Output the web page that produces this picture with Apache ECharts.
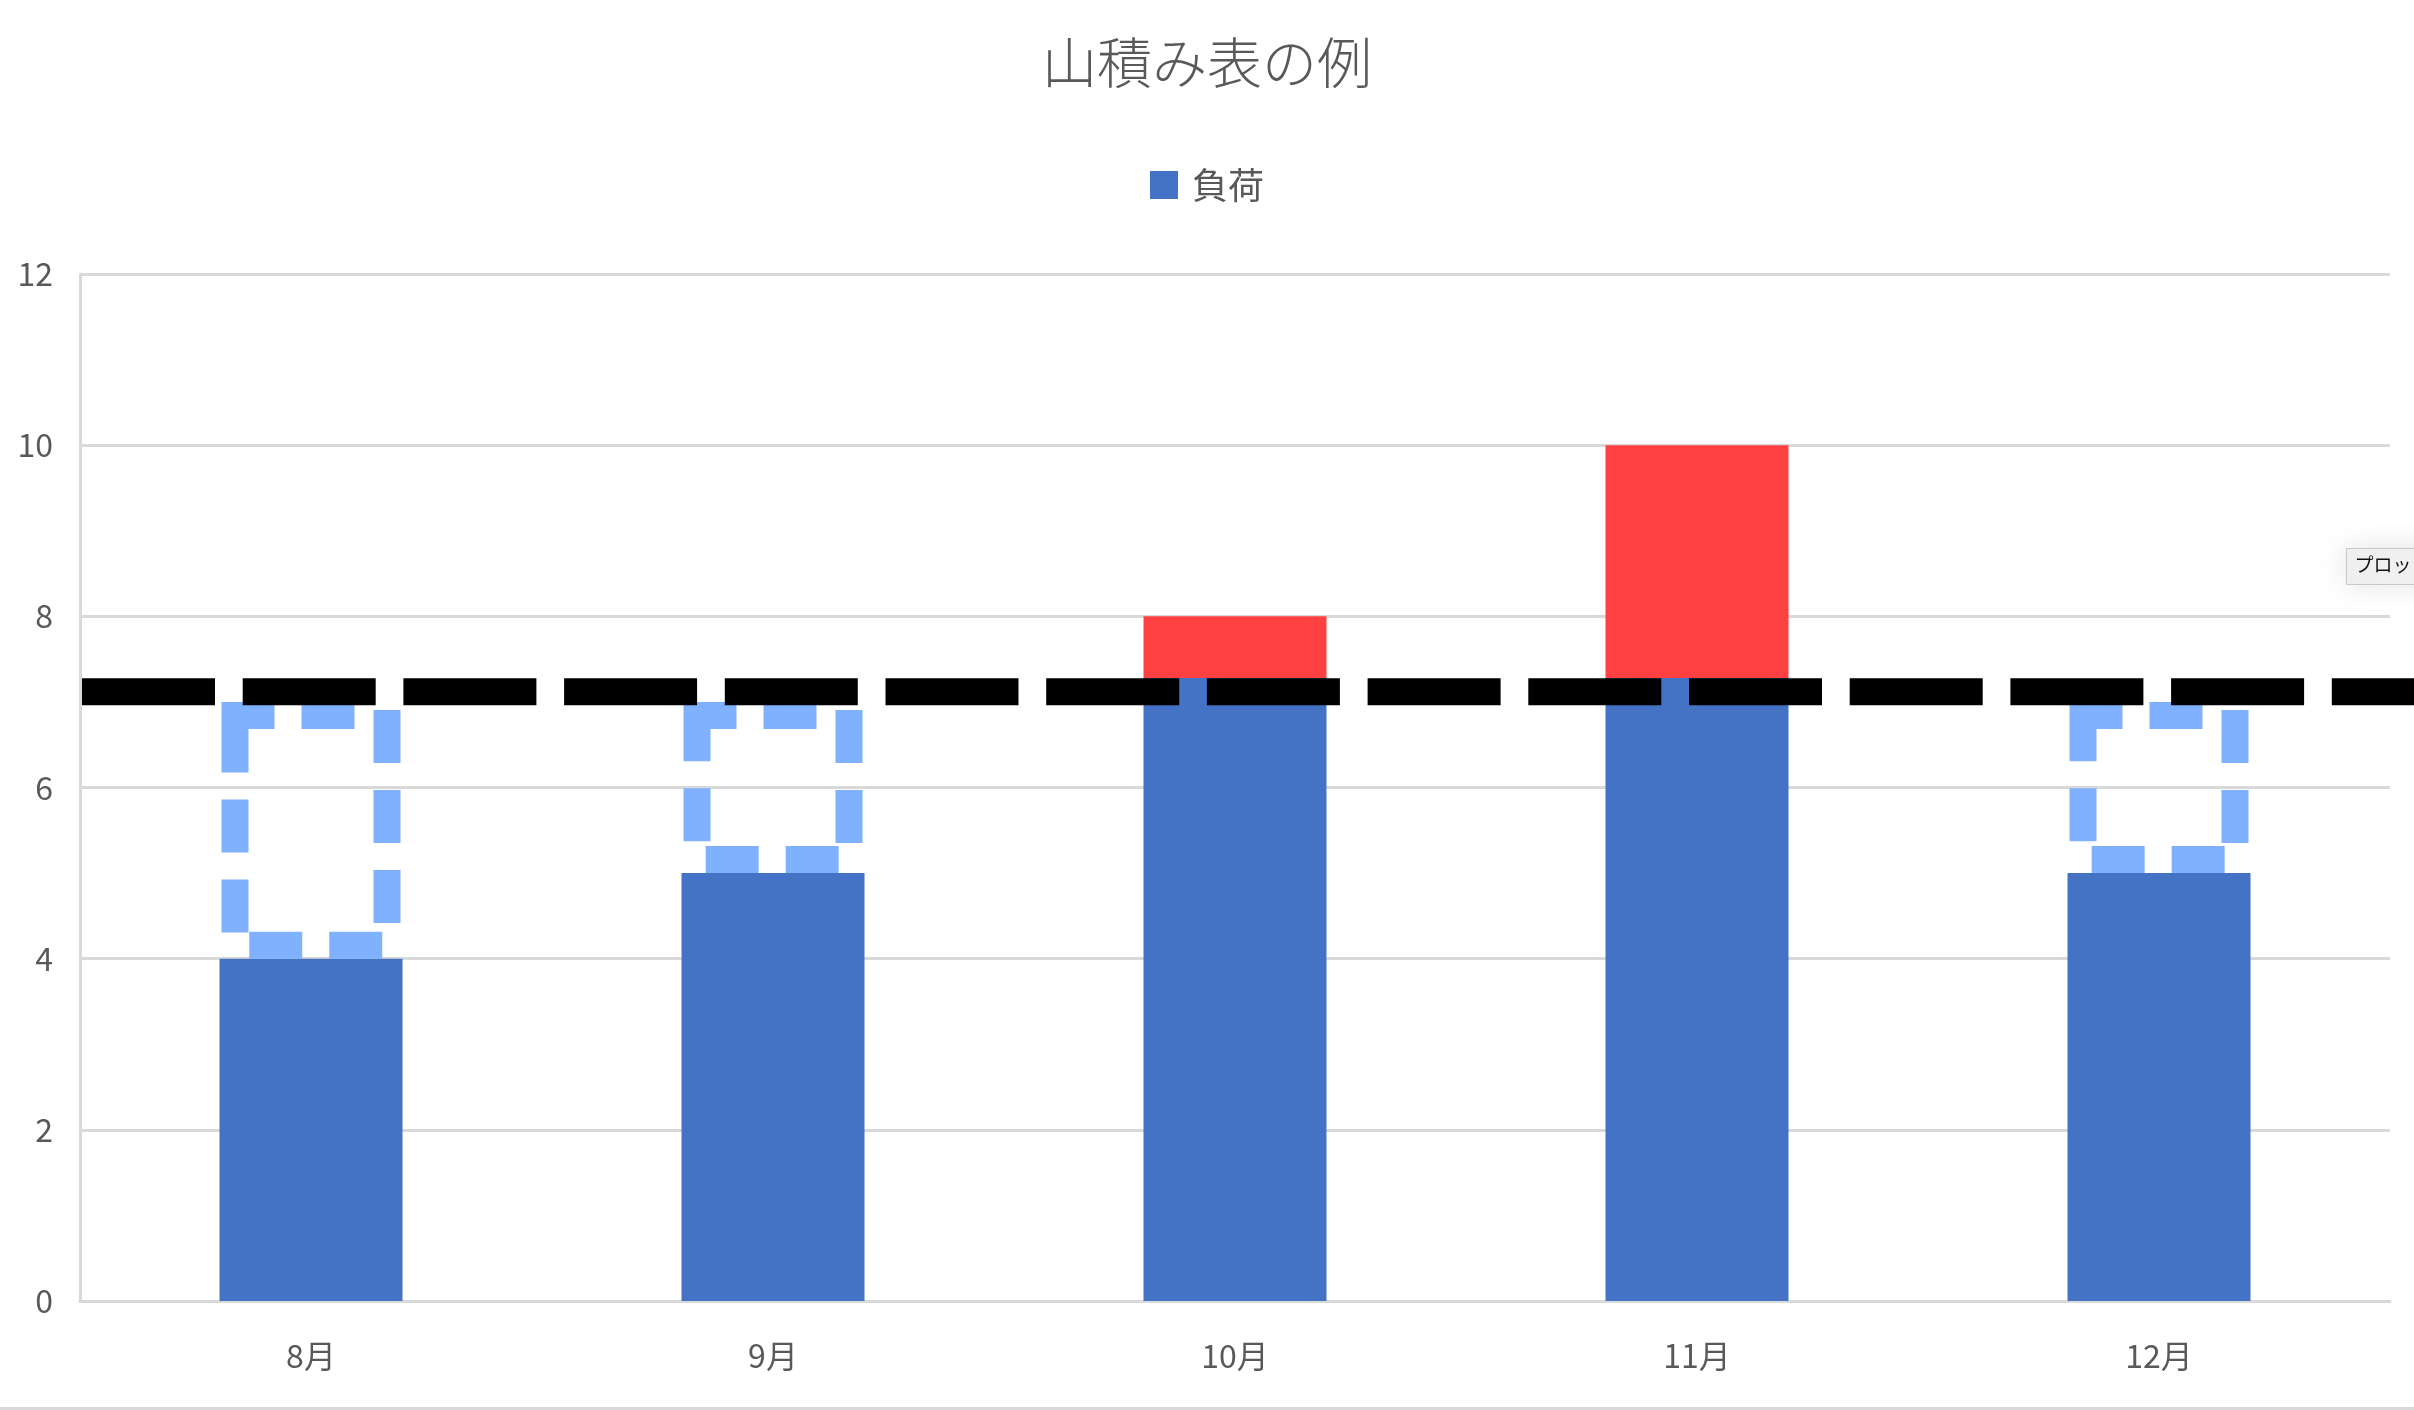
<!DOCTYPE html>
<html>
<head>
<meta charset="utf-8">
<script src="https://cdn.jsdelivr.net/npm/echarts@6/dist/echarts.min.js"></script>
<style>
  html, body { margin: 0; padding: 0; background: #fff; }
  #chart { width: 2414px; height: 1410px; }
</style>
</head>
<body>
<div id="chart"></div>
<script>
// data
var months = ['8月', '9月', '10月', '11月', '12月'];
var loadInCap = [4, 5, 7.28, 7.28, 5];     // blue part
var overLoad = [0, 0, 0.72, 2.72, 0];       // red part above capacity
var capacityTop = 7;                        // top of the dashed "free" boxes
var limitLine = 7.12;                       // black dashed capacity line
var yTicks = [0, 12, 2];                    // min, max, interval

var FONT = '"Noto Sans CJK JP", "Noto Sans", sans-serif';
var TXT = '#595959';
var GRIDC = '#D9D9D9';

// free capacity boxes (only where load < capacity)
var slack = [];
loadInCap.forEach(function (v, i) {
    if (overLoad[i] === 0 && v < capacityTop) slack.push([i, v, capacityTop]);
});

function renderSlack(params, api) {
    var lo = api.coord([api.value(0), api.value(1)]);
    var hi = api.coord([api.value(0), api.value(2)]);
    var w = 179, lw = 27;
    return {
        type: 'rect',
        shape: {
            x: lo[0] - w / 2 + lw / 2,
            y: hi[1] + lw / 2,
            width: w - lw,
            height: lo[1] - hi[1] - lw
        },
        style: {
            fill: 'none', stroke: '#7FB1FF', lineWidth: lw,
            lineDash: [26, 54], lineCap: 'square', lineJoin: 'miter'
        },
        z2: 3
    };
}

var chart = echarts.init(document.getElementById('chart'));
chart.setOption({
    animation: false,
    backgroundColor: '#fff',
    title: {
        text: '山積み表の例',
        left: 'center',
        top: 30,
        textStyle: { fontFamily: FONT, fontSize: 55, fontWeight: 300, color: TXT }
    },
    legend: {
        data: ['負荷'],
        top: 162,
        left: 'center',
        icon: 'rect',
        itemWidth: 28,
        itemHeight: 28,
        textStyle: { fontFamily: FONT, fontSize: 36, color: TXT, padding: [0, 0, 0, 9] }
    },
    grid: [
        { left: 80, right: 24, top: 274, bottom: 109 },
        { left: 80, right: 0, top: 274, bottom: 109 }
    ],
    xAxis: [{
        type: 'category',
        data: months,
        gridIndex: 0,
        axisLine: { lineStyle: { color: GRIDC, width: 3 } },
        axisTick: { show: false },
        axisLabel: { fontFamily: FONT, fontSize: 32, color: TXT, margin: 39 }
    }, {
        type: 'value',
        gridIndex: 1,
        min: 0,
        max: 1,
        show: false
    }],
    yAxis: [{
        type: 'value',
        gridIndex: 0,
        min: yTicks[0],
        max: yTicks[1],
        interval: yTicks[2],
        axisLine: { show: true, lineStyle: { color: GRIDC, width: 3 } },
        axisTick: { show: false },
        splitLine: { lineStyle: { color: GRIDC, width: 3 } },
        axisLabel: { fontFamily: FONT, fontSize: 32, color: TXT, margin: 27 }
    }, {
        type: 'value',
        gridIndex: 1,
        min: yTicks[0],
        max: yTicks[1],
        show: false
    }],
    series: [{
        name: '負荷',
        type: 'bar',
        stack: 'load',
        barWidth: 183,
        itemStyle: { color: '#4472C4' },
        data: loadInCap
    }, {
        name: '超過',
        type: 'bar',
        stack: 'load',
        barWidth: 183,
        itemStyle: { color: '#FF4040' },
        data: overLoad
    }, {
        name: '余力',
        type: 'custom',
        renderItem: renderSlack,
        data: slack,
        z: 3
    }, {
        name: '能力',
        type: 'line',
        xAxisIndex: 1,
        yAxisIndex: 1,
        symbol: 'none',
        z: 5,
        lineStyle: { color: '#000', width: 27, type: [133, 27.7], dashOffset: -2, cap: 'butt' },
        data: [[0, limitLine], [1, limitLine]]
    }],
    graphic: [{
        type: 'line',
        shape: { x1: 0, y1: 1408.5, x2: 2414, y2: 1408.5 },
        style: { stroke: GRIDC, lineWidth: 3 }
    }, {
        type: 'group',
        left: 2346,
        top: 548,
        children: [{
            type: 'rect',
            shape: { x: 0, y: 0, width: 120, height: 36 },
            style: {
                fill: '#F0F0F0', stroke: '#C8C8C8', lineWidth: 1,
                shadowBlur: 30, shadowColor: 'rgba(0,0,0,0.12)'
            }
        }, {
            type: 'text',
            x: 8,
            y: 7,
            style: { text: 'プロットエリア', fontFamily: FONT, fontSize: 19, fill: '#111' }
        }]
    }]
});
</script>
</body>
</html>
